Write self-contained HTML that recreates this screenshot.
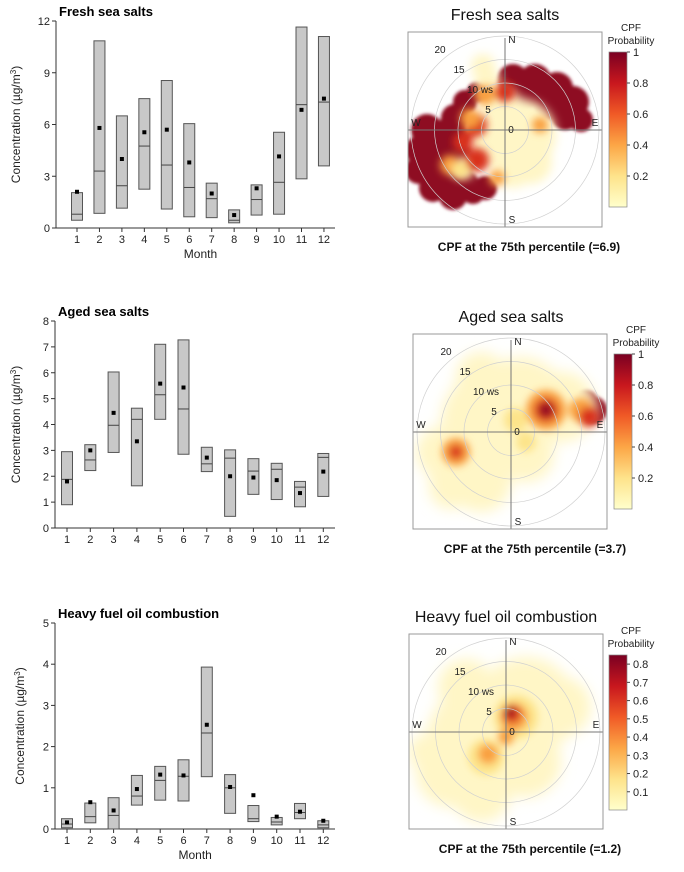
<!DOCTYPE html>
<html><head><meta charset="utf-8">
<style>
html,body{margin:0;padding:0;background:#fff;}
svg{display:block;font-family:"Liberation Sans",sans-serif;}
</style></head>
<body>
<svg id="fig" width="684" height="872" viewBox="0 0 684 872" xmlns="http://www.w3.org/2000/svg">
<defs>
<linearGradient id="cb1" x1="0" y1="1" x2="0" y2="0">
<stop offset="0" stop-color="#ffffcc"/><stop offset="0.2" stop-color="#fee38b"/><stop offset="0.4" stop-color="#fca646"/>
<stop offset="0.6" stop-color="#f05a26"/><stop offset="0.8" stop-color="#c8171e"/><stop offset="1" stop-color="#7a0022"/></linearGradient>
<filter id="bHot" x="-50%" y="-50%" width="200%" height="200%"><feGaussianBlur stdDeviation="4"/></filter>
<filter id="bBase" x="-50%" y="-50%" width="200%" height="200%"><feGaussianBlur stdDeviation="1.5"/></filter>
<filter id="bPale" x="-50%" y="-50%" width="200%" height="200%"><feGaussianBlur stdDeviation="5"/></filter>
<filter id="bSoft" x="-50%" y="-50%" width="200%" height="200%"><feGaussianBlur stdDeviation="7"/></filter>
<clipPath id="clip1"><rect x="408" y="32" width="194" height="195"/></clipPath>
<clipPath id="clip2"><rect x="413" y="334" width="194" height="195"/></clipPath>
<clipPath id="clip3"><rect x="409" y="634" width="193" height="195"/></clipPath>
</defs>
<g id="boxes"></g>
<g id="polars"></g>
</svg>
<script>
const months = ["1","2","3","4","5","6","7","8","9","10","11","12"];
// Fresh sea salts
const fssLow  = [0.45,0.85,1.15,2.25,1.1,0.65,0.6,0.3,0.75,0.8,2.85,3.6];
const fssMed  = [0.8,3.3,2.45,4.75,3.65,2.35,1.7,0.45,1.65,2.65,7.15,7.3];
const fssHigh = [2.05,10.85,6.5,7.5,8.55,6.05,2.6,1.05,2.5,5.55,11.65,11.1];
const fssMean = [2.1,5.8,4.0,5.55,5.7,3.8,2.0,0.75,2.3,4.15,6.85,7.5];
const fssTicks = [0,3,6,9,12];
// Aged sea salts
const assLow  = [0.9,2.22,2.92,1.63,4.2,2.85,2.18,0.45,1.3,1.1,0.82,1.22];
const assMed  = [1.88,2.63,3.97,4.2,5.15,4.6,2.48,2.7,2.2,2.27,1.58,2.73];
const assHigh = [2.95,3.22,6.03,4.63,7.1,7.27,3.12,3.02,2.68,2.5,1.8,2.88];
const assMean = [1.8,3.0,4.45,3.35,5.58,5.43,2.72,2.0,1.95,1.85,1.35,2.18];
const assTicks = [0,1,2,3,4,5,6,7,8];
// Heavy fuel oil combustion
const hfoLow  = [0.03,0.15,0,0.58,0.7,0.68,1.27,0.38,0.18,0.1,0.25,0.03];
const hfoMed  = [0.12,0.3,0.33,0.8,1.18,1.28,2.33,1.0,0.25,0.17,0.4,0.1];
const hfoHigh = [0.25,0.63,0.76,1.3,1.52,1.68,3.93,1.32,0.57,0.28,0.62,0.2];
const hfoMean = [0.16,0.65,0.45,0.97,1.32,1.3,2.53,1.02,0.82,0.3,0.42,0.2];
const hfoTicks = [0,1,2,3,4,5];

const NS="http://www.w3.org/2000/svg";
function mk(tag, attrs, parent, text){
  const e=document.createElementNS(NS,tag);
  for(const k in attrs) e.setAttribute(k,attrs[k]);
  if(text!==undefined) e.textContent=text;
  parent.appendChild(e); return e;
}
const boxes=document.getElementById('boxes');

function boxChart(key,title,low,med,high,mean,ticks,g){
  const grp=mk('g',{},boxes);
  
  
  const ymax=ticks[ticks.length-1];
  const yS=v=>g.y0-(v/ymax)*(g.y0-g.yTop);
  const xS=i=>g.x1+i*g.dx;
  const t=mk('text',{x:g.ax+3,y:g.yTop-5,'font-size':13,'font-weight':'bold',fill:'#000'},grp,title);
  
  
  const ya=mk('line',{x1:g.ax,y1:g.yTop,x2:g.ax,y2:g.y0,stroke:'#333','stroke-width':1},grp);
  
  
  const xa=mk('line',{x1:g.ax,y1:g.y0,x2:g.xEnd,y2:g.y0,stroke:'#333','stroke-width':1},grp);
  
  
  ticks.forEach(v=>{
    mk('line',{x1:g.ax-4,y1:yS(v),x2:g.ax,y2:yS(v),stroke:'#333'},grp);
    const tl=mk('text',{x:g.ax-6,y:yS(v)+4,'font-size':11,'text-anchor':'end',fill:'#222'},grp,String(v));
    
    
  });
  const yl=mk('text',{x:0,y:0,'font-size':12,'text-anchor':'middle',fill:'#222',transform:`translate(${g.ylx},${(g.y0+g.yTop)/2}) rotate(-90)`},grp);
  yl.innerHTML='Concentration (µg/m<tspan dy="-4" font-size="8">3</tspan><tspan dy="4">)</tspan>';
  
  
  months.forEach((m,i)=>{
    const x=xS(i);
    mk('line',{x1:x,y1:g.y0,x2:x,y2:g.y0+4,stroke:'#333'},grp);
    const ml=mk('text',{x:x,y:g.y0+15,'font-size':11,'text-anchor':'middle',fill:'#222'},grp,m);
    
    
    const r=mk('rect',{x:x-5.5,y:yS(high[i]),width:11,height:yS(low[i])-yS(high[i]),fill:'#c8c8c8',stroke:'#555','stroke-width':1},grp);
    
    
    const md=mk('line',{x1:x-5.5,y1:yS(med[i]),x2:x+5.5,y2:yS(med[i]),stroke:'#444','stroke-width':1},grp);
    
    
    const mn=mk('rect',{x:x-2,y:yS(mean[i])-2,width:4,height:4,fill:'#000'},grp);
    
    
  });
  if(g.monthLabel){
    const xt=mk('text',{x:(g.x1+xS(11))/2,y:g.y0+30,'font-size':12,'text-anchor':'middle',fill:'#222'},grp,'Month');
    
    
  }
}
boxChart('fresh-sea-salts','Fresh sea salts',fssLow,fssMed,fssHigh,fssMean,fssTicks,{ax:56,y0:228,yTop:21,x1:77,dx:22.45,xEnd:335,ylx:20,monthLabel:true});
boxChart('aged-sea-salts','Aged sea salts',assLow,assMed,assHigh,assMean,assTicks,{ax:55,y0:528,yTop:321,x1:67,dx:23.3,xEnd:335,ylx:20,monthLabel:false});
boxChart('heavy-fuel-oil','Heavy fuel oil combustion',hfoLow,hfoMed,hfoHigh,hfoMean,hfoTicks,{ax:55,y0:829,yTop:623,x1:67,dx:23.3,xEnd:335,ylx:24,monthLabel:true});

// Polar CPF spots: [dx, dy, radius, colour]
const P='#fff6c6', Y='#fde48a', O='#f9a03f', R='#d9301f', D='#8e0a20';
const fssDark=[[8,-50,16,D],[30,-50,16,D],[52,-42,16,D],[68,-28,16,D],[76,-10,12,D],[20,-38,18,D],[45,-28,18,D],[60,-15,15,D],
 [-40,-28,12,D],[-28,-38,10,D],[-50,-12,14,D],
 [-78,0,16,D],[-86,20,14,D],[-86,40,14,D],[-72,58,14,D],[-52,66,14,D],[-32,62,12,D],[-62,22,20,D],[-55,45,16,D],
 [-55,5,18,D],[-48,30,18,D],[-42,55,16,D],[-68,40,18,D],[-20,58,12,D]];
const fssPale=[[15,5,36,P],[-10,12,26,P],[-18,-50,13,P],[-22,-64,12,P],[25,32,22,P],[8,40,18,P],[-3,-20,22,P],[-40,38,10,P]];
const fssHot=[[-30,-5,12,R],[-28,30,12,R],[0,-38,10,R],[-42,12,10,R],[-55,35,10,O],[-35,-12,10,O],[35,-5,8,O],[-20,-35,10,O],[-45,40,9,Y],[-8,48,8,O]];
const assDark=[[82,-22,14,D],[75,-30,12,D]];
const assPale=[[-15,-10,55,P],[10,-30,45,P],[-45,30,40,P],[-60,55,22,P],[-30,50,30,P],[15,22,28,P],[50,-25,35,P],[-70,20,25,P],[-30,-55,25,P]];
const assHot=[[35,-22,20,O],[35,-22,12,R],[35,-22,7,D],[-55,20,14,O],[-55,20,7,R],[5,-12,12,Y],[15,10,10,Y],[70,-22,12,O],[78,-15,10,R]];
const hfoDark=[];
const hfoPale=[[-20,10,60,P],[20,-25,50,P],[-55,40,35,P],[-40,-45,28,P],[55,-25,30,P],[-80,20,18,P],[-25,60,30,P],[20,30,35,P]];
const hfoHot=[[10,-15,22,Y],[8,-15,14,O],[6,-18,9,R],[4,-20,5,D],[-20,25,18,Y],[-18,22,10,O],[0,5,8,O]];
const cbTicks1=[0.2,0.4,0.6,0.8,1], cbTicks3=[0.1,0.2,0.3,0.4,0.5,0.6,0.7,0.8];

const polars=document.getElementById('polars');
function polar(key,title,caption,dark,pale,hot,cbTicks,cbMax,g,paleFilter){
  const grp=mk('g',{},polars);
  
  
  const tt=mk('text',{x:g.cx,y:g.fy-12,'font-size':16,'text-anchor':'middle',fill:'#111'},grp,title);
  
  
  const clip=mk('g',{'clip-path':`url(#${g.clip})`},grp);
  const b=mk('g',{filter:'url(#bBase)'},clip);
  
  
  dark.forEach(s=>mk('circle',{cx:g.cx+s[0],cy:g.cy+s[1],r:s[2],fill:s[3]},b));
  const b2=mk('g',{filter:`url(#${paleFilter})`},clip);
  pale.forEach(s=>mk('circle',{cx:g.cx+s[0],cy:g.cy+s[1],r:s[2],fill:s[3]},b2));
  const h=mk('g',{filter:'url(#bHot)'},clip);
  hot.forEach(s=>{
    const c=mk('circle',{cx:g.cx+s[0],cy:g.cy+s[1],r:s[2],fill:s[3]},h);
    
    
  });
  [5,10,15,20].forEach(w=>{
    const rr=mk('circle',{cx:g.cx,cy:g.cy,r:w*4.7,fill:'none',stroke:'#d0d0d0','stroke-width':0.7},clip);
    
    
  });
  mk('line',{x1:g.cx,y1:g.fy+6,x2:g.cx,y2:g.fy+195,stroke:'#777'},grp);
  mk('line',{x1:g.fx,y1:g.cy,x2:g.fx+194,y2:g.cy,stroke:'#777'},grp);
  const fr=mk('rect',{x:g.fx,y:g.fy,width:194,height:195,fill:'none',stroke:'#999'},grp);
  
  
  const lbl=(x,y,s,a)=>{const e=mk('text',{x:x,y:y,'font-size':10,'text-anchor':a||'middle',fill:'#222'},grp,s);
    
    };
  lbl(g.cx+7,g.fy+11,'N'); lbl(g.cx+7,g.fy+191,'S'); lbl(g.fx+8,g.cy-4,'W'); lbl(g.fx+187,g.cy-4,'E');
  lbl(g.cx+6,g.cy+3,'0'); lbl(g.cx-17,g.cy-17,'5'); lbl(g.cx-25,g.cy-37,'10 ws'); lbl(g.cx-46,g.cy-57,'15'); lbl(g.cx-65,g.cy-77,'20');
  const cb=mk('rect',{x:g.cbx,y:g.cby,width:18,height:155,fill:'url(#cb1)',stroke:'#888','stroke-width':0.7},grp);
  
  
  cbTicks.forEach(v=>{
    const y=g.cby+155-(v/cbMax)*155;
    mk('line',{x1:g.cbx+18,y1:y,x2:g.cbx+21,y2:y,stroke:'#444'},grp);
    const e=mk('text',{x:g.cbx+24,y:y+4,'font-size':11,fill:'#222'},grp,String(v));
    
    
  });
  const c1=mk('text',{x:g.cbx+22,y:g.cby-21,'font-size':10,'text-anchor':'middle',fill:'#222'},grp,'CPF');
  
  
  mk('text',{x:g.cbx+22,y:g.cby-8,'font-size':10,'text-anchor':'middle',fill:'#222'},grp,'Probability');
  const cap=mk('text',{x:g.cx+24,y:g.fy+219,'font-size':12,'font-weight':'bold','text-anchor':'middle',fill:'#111'},grp,caption);
  
  
}
polar('fresh-sea-salts','Fresh sea salts','CPF at the 75th percentile (=6.9)',fssDark,fssPale,fssHot,cbTicks1,1,{fx:408,fy:32,cx:505,cy:130,cbx:609,cby:52,clip:'clip1'},'bPale');
polar('aged-sea-salts','Aged sea salts','CPF at the 75th percentile (=3.7)',assDark,assPale,assHot,cbTicks1,1,{fx:413,fy:334,cx:511,cy:432,cbx:614,cby:354,clip:'clip2'},'bSoft');
polar('heavy-fuel-oil','Heavy fuel oil combustion','CPF at the 75th percentile (=1.2)',hfoDark,hfoPale,hfoHot,cbTicks3,0.85,{fx:409,fy:634,cx:506,cy:732,cbx:609,cby:655,clip:'clip3'},'bSoft');
</script>
</body></html>
